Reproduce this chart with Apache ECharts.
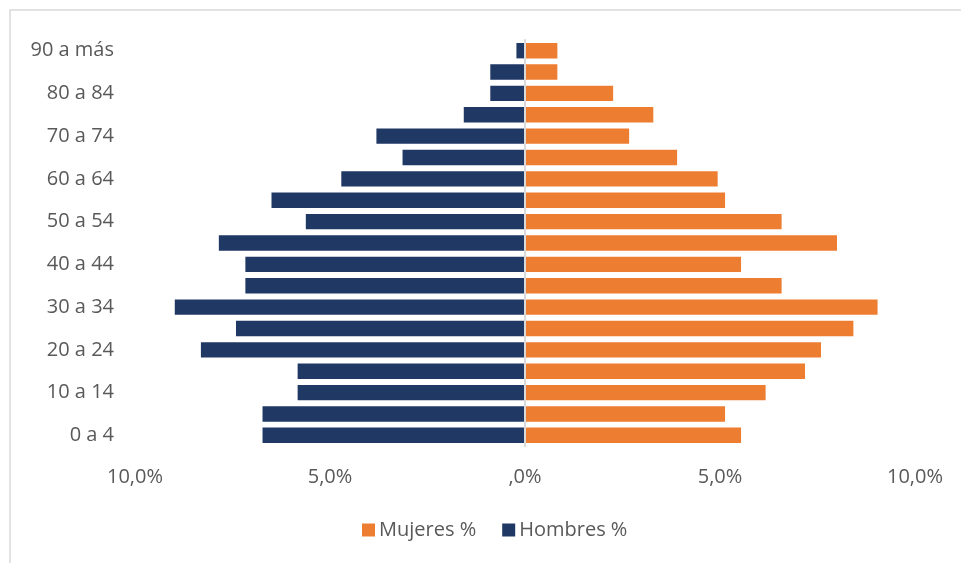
<!DOCTYPE html>
<html>
<head>
<meta charset="utf-8">
<script src="https://cdn.jsdelivr.net/npm/echarts@6/dist/echarts.min.js"></script>
<style>
html,body{margin:0;padding:0;background:#fff;}
#chart{width:961px;height:563px;}
</style>
</head>
<body>
<div id="chart"></div>
<script>
const categories = ['0 a 4','5 a 9','10 a 14','15 a 19','20 a 24','25 a 29','30 a 34','35 a 39','40 a 44','45 a 49','50 a 54','55 a 59','60 a 64','65 a 69','70 a 74','75 a 79','80 a 84','85 a 89','90 a más'];
const hombres = [6.73, 6.73, 5.83, 5.83, 8.31, 7.41, 8.98, 7.17, 7.17, 7.85, 5.62, 6.50, 4.71, 3.14, 3.81, 1.57, 0.89, 0.89, 0.22];
const mujeres = [5.54, 5.13, 6.17, 7.18, 7.59, 8.42, 9.04, 6.58, 5.54, 8.00, 6.58, 5.13, 4.94, 3.90, 2.67, 3.29, 2.26, 0.83, 0.83];
const xTicks = [-10, -5, 0, 5, 10];

const FONT = '"Open Sans", "Noto Sans", sans-serif';
const TXT = '#595959';

const chart = echarts.init(document.getElementById('chart'), null, {renderer: 'canvas'});
chart.setOption({
  animation: false,
  backgroundColor: '#fff',
  textStyle: {fontFamily: FONT, color: TXT},
  graphic: [{
    type: 'rect', silent: true, z: -1,
    shape: {x: 10, y: 10, width: 1200, height: 1000},
    style: {fill: 'none', stroke: '#d9d9d9', lineWidth: 1.5}
  }],
  grid: {left: 135, right: 46, top: 40, bottom: 117, containLabel: false},
  legend: {
    left: 357, top: 515,
    itemWidth: 13, itemHeight: 13, itemGap: 26,
    icon: 'rect',
    textStyle: {fontFamily: FONT, fontSize: 20, color: TXT, padding: [0, 0, 0, -1]},
    data: ['Mujeres %', 'Hombres %']
  },
  xAxis: {
    type: 'value', min: xTicks[0], max: xTicks[xTicks.length - 1], interval: 5,
    splitLine: {show: false},
    axisLine: {show: false},
    axisTick: {show: false},
    axisLabel: {
      fontFamily: FONT, fontSize: 20, color: TXT, margin: 21,
      formatter: function (v) {
        if (v === 0) return ',0%';
        return Math.abs(v).toFixed(1).replace('.', ',') + '%';
      }
    }
  },
  yAxis: {
    type: 'category', data: categories, z: 5,
    axisLine: {show: true, onZero: true, lineStyle: {color: '#d9d9d9', width: 2}},
    axisTick: {show: false},
    axisLabel: {fontFamily: FONT, fontSize: 20, color: TXT, margin: 21, interval: 1}
  },
  series: [
    {
      name: 'Hombres %', type: 'bar',
      data: hombres.map(v => -v),
      barGap: '-100%', barCategoryGap: '28%',
      itemStyle: {color: '#203864'}
    },
    {
      name: 'Mujeres %', type: 'bar',
      data: mujeres,
      barGap: '-100%', barCategoryGap: '28%',
      itemStyle: {color: '#ED7D31'}
    }
  ]
});
</script>
</body>
</html>
